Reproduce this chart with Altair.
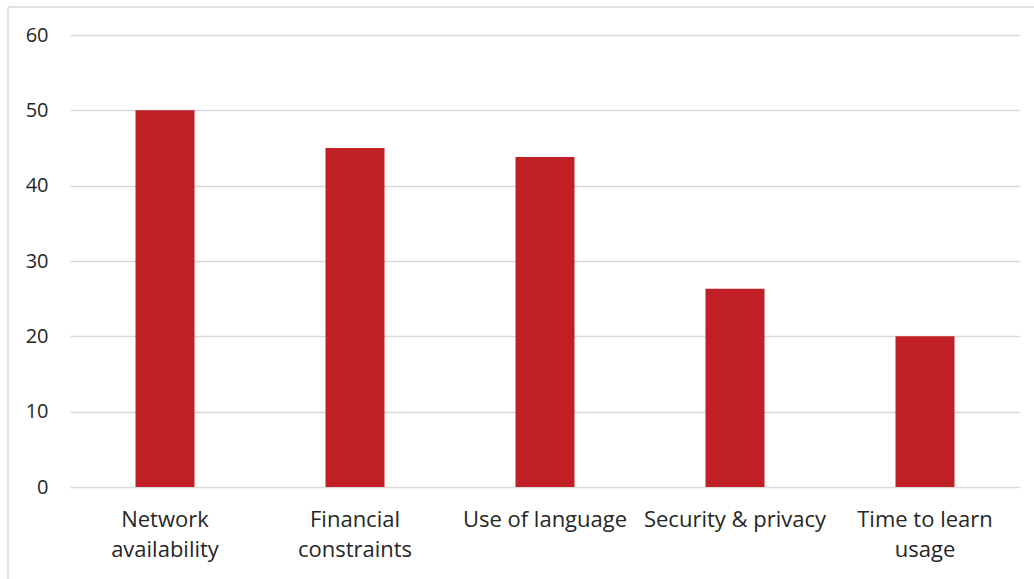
import altair as alt
import pandas as pd

categories = ["Network\navailability", "Financial\nconstraints", "Use of language",
              "Security & privacy", "Time to learn\nusage"]
values = [50.0, 45.0, 43.8, 26.3, 20.0]

df = pd.DataFrame({"category": categories, "value": values})

bars = alt.Chart(df).mark_bar(size=59, color="#C01F25").encode(
    x=alt.X("category:N", sort=None, title=None,
            axis=alt.Axis(labelAngle=0, labelExpr="split(datum.label, '\\n')",
                          labelFont="Open Sans", labelFontSize=22, labelColor="#262626",
                          labelLineHeight=30, labelPadding=22, ticks=False, domain=False,
                          labelBaseline="top", labelLimit=400, labelOverlap=False)),
    y=alt.Y("value:Q", title=None, scale=alt.Scale(domain=[0, 60]),
            axis=alt.Axis(values=[0, 10, 20, 30, 40, 50, 60], labelFont="Open Sans",
                          labelFontSize=20, labelColor="#262626", labelPadding=22,
                          ticks=False, domain=False, grid=True, gridColor="#d9d9d9",
                          gridWidth=1.5)),
)

frame_df = pd.DataFrame({"k": [0]})
left_line = alt.Chart(frame_df).mark_rule(color="#d9d9d9", strokeWidth=1.5).encode(
    x=alt.value(-62), y=alt.value(-28), y2=alt.value(560))
top_line = alt.Chart(frame_df).mark_rule(color="#d9d9d9", strokeWidth=1.5).encode(
    x=alt.value(-62), x2=alt.value(980), y=alt.value(-28))

chart = alt.layer(bars, left_line, top_line).properties(
    width=950, height=452,
    background="white",
    autosize=alt.AutoSizeParams(type="none"),
    padding={"left": 70, "top": 35, "right": 14, "bottom": 92},
).configure_view(strokeWidth=0, stroke="transparent")

chart.save("out.html", embed_options={"renderer": "svg", "actions": False})
